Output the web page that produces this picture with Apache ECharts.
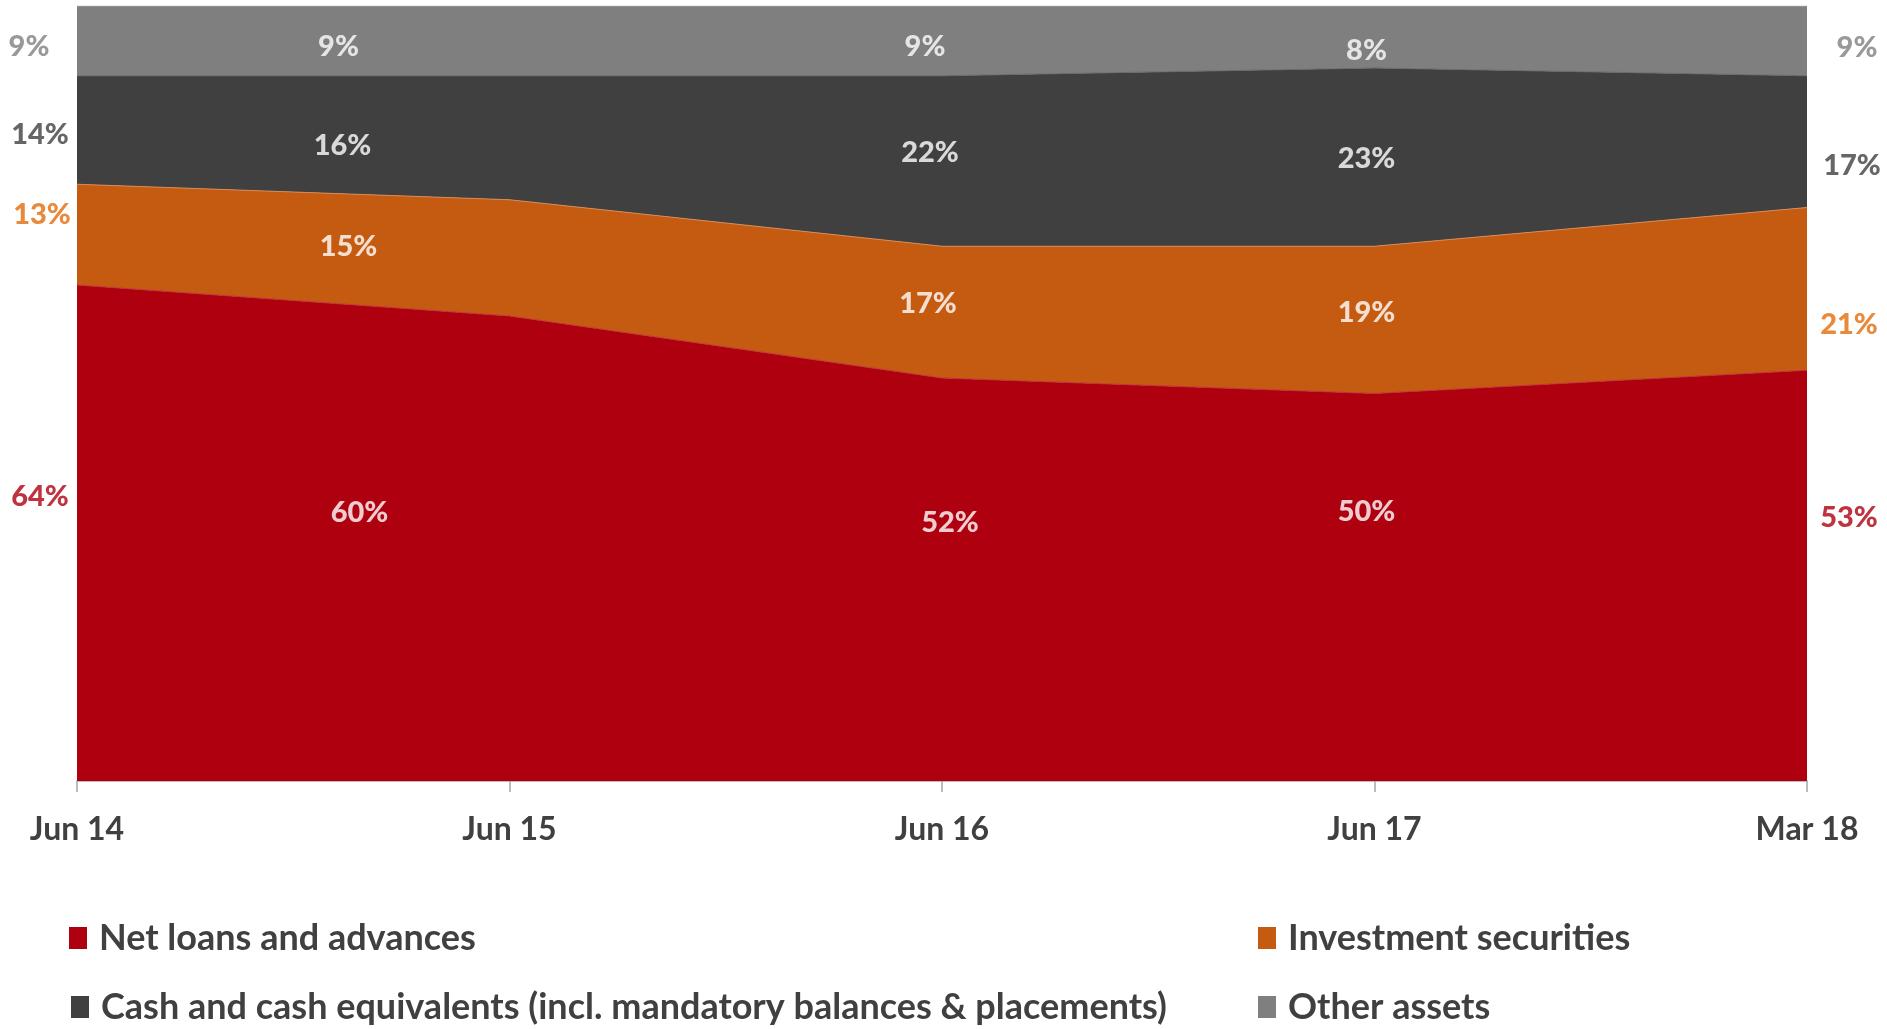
<!DOCTYPE html>
<html>
<head>
<meta charset="utf-8">
<script src="https://cdn.jsdelivr.net/npm/echarts@6/dist/echarts.min.js"></script>
<style>
  html, body { margin: 0; padding: 0; background: #fff; }
  #chart { width: 1887px; height: 1029px; }
</style>
</head>
<body>
<div id="chart"></div>
<script>
const categories = ['Jun 14', 'Jun 15', 'Jun 16', 'Jun 17', 'Mar 18'];
const netLoans = [64, 60, 52, 50, 53];
const investmentSecurities = [13, 15, 17, 19, 21];
const cashEquivalents = [14, 16, 22, 23, 17];
const otherAssets = [9, 9, 9, 8, 9];

const FONT = 'Lato, "Open Sans", sans-serif';
const TEXT = '#404040';

// bottom -> top; dx/dy nudge each value label off the band centre
const bands = [
  {name: 'Net loans and advances', data: netLoans, color: '#ae000f', line: '#c0303a', outside: '#ae000f',
    dx: [-37, -150, 8, -8, 42], dy: [-36, -36, -57, -76, -58], legend: {left: 64, top: 933}},
  {name: 'Investment securities', data: investmentSecurities, color: '#c55a11', line: '#d98a55', outside: '#e46c0a',
    dx: [-35, -161, -14, -8, 42], dy: [-20, -11, -8, -7, 36], legend: {left: 1253, top: 933}},
  {name: 'Cash and cash equivalents (incl. mandatory balances & placements)', data: cashEquivalents, color: '#404040', line: '#6a6a6a', outside: '#404040',
    dx: [-37, -167, -12, -8, 45], dy: [5, 8, -8, 2, 24], legend: {left: 66, top: 1002}},
  {name: 'Other assets', data: otherAssets, color: '#7f7f7f', line: '#a8a8a8', outside: '#808080',
    dx: [-48, -171, -17, -8, 50], dy: [6, 6, 6, 14, 7], legend: {left: 1253, top: 1002}}
];

const series = [];
const below = categories.map(() => 0);
bands.forEach(b => {
  series.push({
    name: b.name,
    type: 'line',
    stack: 'total',
    symbol: 'none',
    silent: true,
    lineStyle: {width: 1, color: b.line},
    itemStyle: {color: b.color},
    areaStyle: {color: b.color, opacity: 1},
    data: b.data
  });
  // label helper: point in the middle of each band
  const pts = b.data.map((v, i) => {
    const last = i === 0 || i === categories.length - 1;
    return {
      value: [i, below[i] + v / 2, v],
      label: {
        offset: [b.dx[i], b.dy[i]],
        color: last ? b.outside : '#ffffff',
        fontWeight: 900
      }
    };
  });
  b.data.forEach((v, i) => { below[i] += v; });
  series.push({
    type: 'scatter',
    symbolSize: 0,
    silent: true,
    z: 10,
    label: {
      show: true,
      position: 'inside',
      fontFamily: FONT,
      fontWeight: 900,
      fontSize: 29,
      formatter: p => p.value[2] + '%'
    },
    data: pts
  });
});

const legends = bands.map(b => ({
  data: [b.name],
  left: b.legend.left,
  top: b.legend.top - 20,
  icon: 'rect',
  itemWidth: 18,
  itemHeight: 22,
  selectedMode: false,
  textStyle: {fontFamily: FONT, fontWeight: 'bold', fontSize: 36, color: TEXT, lineHeight: 40, padding: [0, 0, 0, 7]}
}));

const chart = echarts.init(document.getElementById('chart'));
chart.setOption({
  animation: false,
  backgroundColor: '#ffffff',
  grid: {left: 77, right: 80, top: 6, bottom: 248},
  legend: legends,
  xAxis: {
    type: 'category',
    data: categories,
    boundaryGap: false,
    axisLine: {lineStyle: {color: '#a6a6a6', width: 1.5}},
    axisTick: {show: true, length: 11, lineStyle: {color: '#a6a6a6', width: 1.5}},
    axisLabel: {
      margin: 33,
      fontFamily: FONT,
      fontWeight: 'bold',
      fontSize: 32,
      color: TEXT
    }
  },
  yAxis: {
    type: 'value',
    min: 0,
    max: 100,
    show: false
  },
  series: series
});
</script>
</body>
</html>
